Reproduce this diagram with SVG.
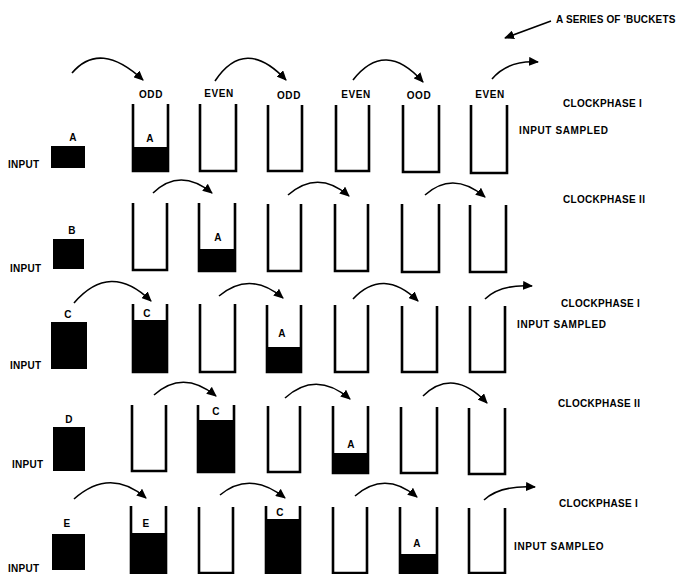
<svg xmlns="http://www.w3.org/2000/svg" width="683" height="574" viewBox="0 0 683 574">
<style>
text{font-family:"Liberation Sans",Arial,sans-serif;font-weight:bold;font-size:10px;fill:#000;letter-spacing:0.3px}
.c{text-anchor:middle}
.w{letter-spacing:0.6px}
.t{letter-spacing:0.15px}
.b{fill:none;stroke:#000;stroke-width:2.6;stroke-linejoin:miter}
.f{fill:#000}
.arc{fill:none;stroke:#000;stroke-width:1.6;marker-end:url(#ah)}
</style>
<defs>
<marker id="ah" markerUnits="userSpaceOnUse" markerWidth="11" markerHeight="9" refX="9" refY="4.5" orient="auto">
<path d="M0,0 L10,4.5 L0,9 Z" fill="#000"/>
</marker>
</defs>
<rect width="683" height="574" fill="#fff"/>

<g id="connectors">
<path class="arc" d="M72,73 Q100,40 143,80"/>
<path class="arc" d="M215,81 Q245,36 286,80"/>
<path class="arc" d="M353,80 Q385,39 423,82"/>
<path class="arc" d="M492,79 Q508,60 538,62"/>
<path class="arc" d="M153,193 Q180,167 212,193"/>
<path class="arc" d="M288,195 Q318,169 349,196"/>
<path class="arc" d="M425,195 Q453,170 485,197"/>
<path class="arc" d="M74,303 Q110,261 151,301"/>
<path class="arc" d="M219,296 Q250,270 283,298"/>
<path class="arc" d="M353,299 Q383,267 418,301"/>
<path class="arc" d="M485,299 Q500,284 532,286"/>
<path class="arc" d="M154,395 Q183,369 216,396"/>
<path class="arc" d="M285,398 Q316,370 350,399"/>
<path class="arc" d="M423,396 Q453,367 487,403"/>
<path class="arc" d="M74,499 Q110,467 146,498"/>
<path class="arc" d="M220,495 Q250,470 285,498"/>
<path class="arc" d="M355,496 Q385,470 417,497"/>
<path class="arc" d="M484,500 Q500,485 535,487"/>
<path class="arc" d="M551,21 L505,38"/>
</g>

<g id="title"><text class="t" x="556" y="23">A SERIES OF 'BUCKETS</text></g>

<g id="labels-row1">
<text class="c w" x="151" y="98">ODD</text>
<text class="c w" x="219" y="97">EVEN</text>
<text class="c w" x="289" y="99">ODD</text>
<text class="c w" x="356" y="98">EVEN</text>
<text class="c w" x="419" y="99">OOD</text>
<text class="c w" x="490" y="98">EVEN</text>
</g>

<g id="side-labels">
<text x="563" y="107">CLOCKPHASE I</text>
<text class="w" x="519" y="134">INPUT SAMPLED</text>
<text x="563" y="203">CLOCKPHASE II</text>
<text x="561" y="307">CLOCKPHASE I</text>
<text class="w" x="517" y="328">INPUT SAMPLED</text>
<text x="558" y="407">CLOCKPHASE II</text>
<text x="559" y="507">CLOCKPHASE I</text>
<text class="w" x="514" y="550">INPUT SAMPLEO</text>
</g>

<!-- Row 1 -->
<g id="input-1"><text x="8" y="168">INPUT</text><rect class="f" x="51" y="146" width="34" height="22"/><text class="c" x="73" y="141">A</text></g>
<g id="r1b1"><rect class="f" x="133" y="147" width="35" height="24"/><path class="b" d="M133,104 V171 H168 V104"/><text class="c" x="150" y="142">A</text></g>
<g id="r1b2"><path class="b" d="M200,104 V171 H236 V104"/></g>
<g id="r1b3"><path class="b" d="M268,105 V171 H302 V105"/></g>
<g id="r1b4"><path class="b" d="M336,105 V171 H369 V105"/></g>
<g id="r1b5"><path class="b" d="M403,105 V172 H439 V105"/></g>
<g id="r1b6"><path class="b" d="M471,105 V173 H507 V105"/></g>

<!-- Row 2 -->
<g id="input-2"><text x="10" y="272">INPUT</text><rect class="f" x="53" y="239" width="31" height="30"/><text class="c" x="72" y="234">B</text></g>
<g id="r2b1"><path class="b" d="M133,203 V270 H167 V203"/></g>
<g id="r2b2"><rect class="f" x="199" y="249" width="36" height="22"/><path class="b" d="M199,203 V271 H235 V203"/><text class="c" x="218" y="241">A</text></g>
<g id="r2b3"><path class="b" d="M268,204 V271 H301 V204"/></g>
<g id="r2b4"><path class="b" d="M335,204 V271 H368 V204"/></g>
<g id="r2b5"><path class="b" d="M402,204 V272 H439 V204"/></g>
<g id="r2b6"><path class="b" d="M470,205 V272 H506 V205"/></g>

<!-- Row 3 -->
<g id="input-3"><text x="10" y="369">INPUT</text><rect class="f" x="51" y="322" width="36" height="47"/><text class="c" x="68" y="318">C</text></g>
<g id="r3b1"><rect class="f" x="133" y="320" width="34" height="52"/><path class="b" d="M133,304 V372 H167 V304"/><text class="c" x="147" y="317">C</text></g>
<g id="r3b2"><path class="b" d="M200,304 V372 H235 V304"/></g>
<g id="r3b3"><rect class="f" x="267" y="347" width="34" height="25"/><path class="b" d="M267,305 V372 H301 V305"/><text class="c" x="282" y="337">A</text></g>
<g id="r3b4"><path class="b" d="M335,305 V372 H368 V305"/></g>
<g id="r3b5"><path class="b" d="M402,306 V372 H437 V306"/></g>
<g id="r3b6"><path class="b" d="M470,306 V372 H505 V306"/></g>

<!-- Row 4 -->
<g id="input-4"><text x="12" y="468">INPUT</text><rect class="f" x="53" y="427" width="32" height="44"/><text class="c" x="69" y="423">D</text></g>
<g id="r4b1"><path class="b" d="M132,405 V471 H166 V405"/></g>
<g id="r4b2"><rect class="f" x="198" y="420" width="36" height="52"/><path class="b" d="M198,405 V472 H234 V405"/><text class="c" x="216" y="415">C</text></g>
<g id="r4b3"><path class="b" d="M268,406 V472 H300 V406"/></g>
<g id="r4b4"><rect class="f" x="333" y="453" width="35" height="20"/><path class="b" d="M333,406 V473 H368 V406"/><text class="c" x="351" y="448">A</text></g>
<g id="r4b5"><path class="b" d="M401,407 V473 H437 V407"/></g>
<g id="r4b6"><path class="b" d="M469,408 V474 H505 V408"/></g>

<!-- Row 5 -->
<g id="input-5"><text x="8" y="572">INPUT</text><rect class="f" x="52" y="534" width="33" height="36"/><text class="c" x="67" y="527">E</text></g>
<g id="r5b1"><rect class="f" x="131" y="533" width="35" height="40"/><path class="b" d="M131,506 V573 H166 V506"/><text class="c" x="146" y="527">E</text></g>
<g id="r5b2"><path class="b" d="M199,507 V573 H233 V507"/></g>
<g id="r5b3"><rect class="f" x="266" y="519" width="34" height="54"/><path class="b" d="M266,506 V573 H300 V506"/><text class="c" x="280" y="516">C</text></g>
<g id="r5b4"><path class="b" d="M333,507 V573 H367 V507"/></g>
<g id="r5b5"><rect class="f" x="400" y="554" width="37" height="19"/><path class="b" d="M400,507 V573 H437 V507"/><text class="c" x="417" y="547">A</text></g>
<g id="r5b6"><path class="b" d="M469,508 V573 H505 V508"/></g>
</svg>
